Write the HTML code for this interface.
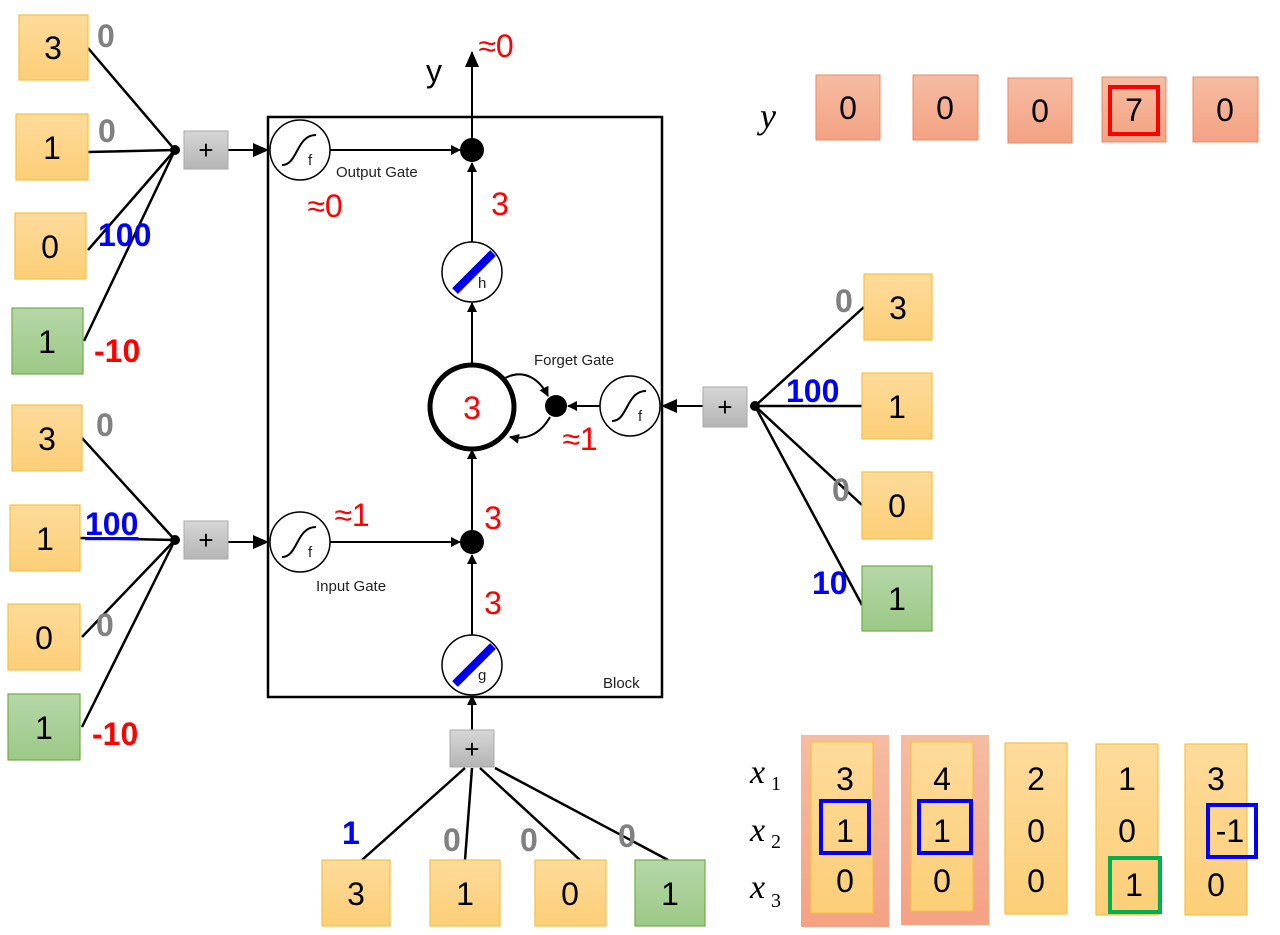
<!DOCTYPE html>
<html><head><meta charset="utf-8"><style>body{margin:0;background:#fff}svg{display:block}</style></head><body>
<svg width="1280" height="935" viewBox="0 0 1280 935" xmlns="http://www.w3.org/2000/svg" font-family="Liberation Sans, sans-serif">
<defs>
<linearGradient id="yl" x1="0" y1="0" x2="0" y2="1"><stop offset="0" stop-color="#fedb9b"/><stop offset="1" stop-color="#fccf77"/></linearGradient>
<linearGradient id="gr" x1="0" y1="0" x2="0" y2="1"><stop offset="0" stop-color="#b6d7a8"/><stop offset="1" stop-color="#9cc987"/></linearGradient>
<linearGradient id="sa" x1="0" y1="0" x2="0" y2="1"><stop offset="0" stop-color="#f6bca2"/><stop offset="1" stop-color="#f4a283"/></linearGradient>
<linearGradient id="gy" x1="0" y1="0" x2="0" y2="1"><stop offset="0" stop-color="#d6d6d6"/><stop offset="1" stop-color="#b5b5b5"/></linearGradient>
<marker id="ar" markerWidth="10" markerHeight="10" refX="9" refY="5" orient="auto" markerUnits="userSpaceOnUse"><path d="M0,0 L10,5 L0,10 z" fill="#000"/></marker>
<marker id="ab" markerWidth="16" markerHeight="14" refX="15" refY="7" orient="auto" markerUnits="userSpaceOnUse"><path d="M0,0 L16,7 L0,14 z" fill="#000"/></marker>
</defs>
<g stroke="#000" stroke-width="2.5" fill="none">
<!-- left top -->
<line x1="88" y1="48" x2="175" y2="150"/><line x1="88" y1="152" x2="175" y2="150"/><line x1="88" y1="250" x2="175" y2="150"/><line x1="84" y1="341" x2="175" y2="150"/>
<!-- left bottom -->
<line x1="82" y1="438" x2="175" y2="540"/><line x1="80" y1="538" x2="175" y2="540"/><line x1="82" y1="637" x2="175" y2="540"/><line x1="82" y1="727" x2="175" y2="540"/>
<!-- right -->
<line x1="864" y1="307" x2="755" y2="406"/><line x1="862" y1="406" x2="755" y2="406"/><line x1="862" y1="505" x2="755" y2="406"/><line x1="862" y1="605" x2="755" y2="406"/>
<!-- bottom -->
<line x1="362" y1="860" x2="465" y2="768"/><line x1="465" y1="860" x2="472" y2="768"/><line x1="580" y1="860" x2="480" y2="768"/><line x1="668" y1="860" x2="495" y2="768"/>
</g>
<g fill="#000"><circle cx="175" cy="150" r="5"/><circle cx="175" cy="540" r="5"/><circle cx="755" cy="406" r="5"/></g>
<!-- block -->
<rect x="268" y="117" width="394" height="580" fill="none" stroke="#000" stroke-width="2.5"/>
<g stroke="#000" stroke-width="2" fill="none">
<line x1="228" y1="150" x2="268" y2="150" marker-end="url(#ab)"/>
<line x1="228" y1="542" x2="268" y2="542" marker-end="url(#ab)"/>
<line x1="330" y1="150" x2="460" y2="150" marker-end="url(#ar)"/>
<line x1="330" y1="542" x2="460" y2="542" marker-end="url(#ar)"/>
<line x1="472" y1="242" x2="472" y2="163" marker-end="url(#ar)"/>
<line x1="472" y1="365" x2="472" y2="303" marker-end="url(#ar)"/>
<line x1="472" y1="530" x2="472" y2="450" marker-end="url(#ar)"/>
<line x1="472" y1="635" x2="472" y2="555" marker-end="url(#ar)"/>
<line x1="472" y1="730" x2="472" y2="696" marker-end="url(#ar)"/>
<line x1="472" y1="138" x2="472" y2="52" marker-end="url(#ab)"/>
<line x1="600" y1="406" x2="568" y2="406" marker-end="url(#ar)"/>
<line x1="703" y1="406" x2="662" y2="406" marker-end="url(#ab)"/>
<path d="M505,378 C525,368 540,380 548,396" marker-end="url(#ar)"/>
<path d="M550,417 C540,435 525,440 510,437" marker-end="url(#ar)"/>
</g>
<g fill="#fff" stroke="#000" stroke-width="1.5">
<circle cx="300" cy="150" r="30"/><circle cx="300" cy="542" r="30"/><circle cx="630" cy="406" r="30"/>
<circle cx="472" cy="272" r="30"/><circle cx="472" cy="665" r="30"/>
</g>
<circle cx="472" cy="407" r="42" fill="#fff" stroke="#000" stroke-width="5"/>
<g fill="#000"><circle cx="472" cy="150" r="12"/><circle cx="472" cy="542" r="12"/><circle cx="556" cy="406" r="11"/></g>
<g stroke="#000" stroke-width="2" fill="none">
<path d="M282,165 C298,165 296,135 316,135"/><path d="M282,557 C298,557 296,527 316,527"/><path d="M612,421 C628,421 626,391 646,391"/>
</g>
<g stroke="#0000ee" stroke-width="8"><line x1="455" y1="291" x2="493" y2="253"/><line x1="455" y1="684" x2="493" y2="646"/></g>
<g font-size="15" fill="#222">
<text x="308" y="165">f</text><text x="308" y="557">f</text><text x="638" y="421">f</text>
<text x="478" y="288">h</text><text x="478" y="680">g</text>
<text x="336" y="177">Output Gate</text><text x="316" y="591">Input Gate</text><text x="534" y="365">Forget Gate</text><text x="603" y="688">Block</text>
</g>
<!-- plus boxes -->
<g fill="url(#gy)" stroke="#aaa" stroke-width="1">
<rect x="184" y="131" width="44" height="38"/><rect x="184" y="521" width="44" height="38"/><rect x="703" y="387" width="44" height="40"/><rect x="450" y="730" width="44" height="37"/>
</g>
<g font-size="26" text-anchor="middle" fill="#000"><text x="206" y="159">+</text><text x="206" y="549">+</text><text x="725" y="416">+</text><text x="472" y="758">+</text></g>
<!-- input boxes -->
<g stroke="#f5c242" stroke-width="1.2" fill="url(#yl)">
<rect x="19" y="15" width="69" height="65"/><rect x="16" y="114" width="72" height="66"/><rect x="15" y="213" width="71" height="66"/>
<rect x="12" y="405" width="70" height="66"/><rect x="10" y="505" width="70" height="66"/><rect x="8" y="604" width="72" height="66"/>
<rect x="864" y="274" width="68" height="66"/><rect x="862" y="373" width="70" height="66"/><rect x="862" y="472" width="70" height="67"/>
<rect x="322" y="860" width="68" height="66"/><rect x="430" y="860" width="70" height="66"/><rect x="535" y="860" width="71" height="66"/>
</g>
<g stroke="#71ad47" stroke-width="1.2" fill="url(#gr)">
<rect x="12" y="308" width="71" height="66"/><rect x="8" y="694" width="72" height="66"/><rect x="862" y="566" width="70" height="65"/><rect x="635" y="860" width="70" height="66"/>
</g>
<g font-size="32" text-anchor="middle" fill="#000">
<text x="53" y="59">3</text><text x="52" y="159">1</text><text x="50" y="258">0</text><text x="47" y="353">1</text>
<text x="47" y="450">3</text><text x="45" y="550">1</text><text x="44" y="649">0</text><text x="44" y="739">1</text>
<text x="898" y="319">3</text><text x="897" y="418">1</text><text x="897" y="517">0</text><text x="897" y="610">1</text>
<text x="356" y="905">3</text><text x="465" y="905">1</text><text x="570" y="905">0</text><text x="670" y="905">1</text>
</g>
<g font-size="32" font-weight="bold">
<text x="97" y="47" fill="#808080">0</text><text x="98" y="142" fill="#808080">0</text><text x="98" y="246" fill="#0000ff">100</text><text x="94" y="362" fill="#ff0000">-10</text>
<text x="96" y="436" fill="#808080">0</text><text x="85" y="535" fill="#0000ff" text-decoration="underline">100</text><text x="96" y="636" fill="#808080">0</text><text x="92" y="745" fill="#ff0000">-10</text>
<text x="835" y="312" fill="#808080">0</text><text x="786" y="402" fill="#0000ff">100</text><text x="832" y="501" fill="#808080">0</text><text x="812" y="594" fill="#0000ff">10</text>
<text x="342" y="844" fill="#0000ff">1</text><text x="443" y="851" fill="#808080">0</text><text x="520" y="851" fill="#808080">0</text><text x="618" y="847" fill="#808080">0</text>
</g>
<g font-size="32" fill="#ff0000" text-anchor="middle">
<text x="496" y="57">≈0</text><text x="500" y="215">3</text><text x="325" y="217">≈0</text><text x="472" y="419">3</text>
<text x="580" y="450">≈1</text><text x="352" y="526">≈1</text><text x="493" y="529">3</text><text x="493" y="614">3</text>
</g>
<text x="426" y="82" font-size="32" fill="#000">y</text>
<!-- y row -->
<text x="760" y="128" font-size="36" font-style="italic" font-family="Liberation Serif, serif">y</text>
<g fill="url(#sa)" stroke="#e98a6a" stroke-width="1">
<rect x="816" y="75" width="64" height="65"/><rect x="913" y="75" width="65" height="65"/><rect x="1008" y="78" width="64" height="65"/><rect x="1102" y="77" width="64" height="65"/><rect x="1193" y="77" width="65" height="65"/>
</g>
<rect x="1110" y="87" width="48" height="47" fill="none" stroke="#ff0000" stroke-width="4"/>
<g font-size="32" text-anchor="middle"><text x="848" y="119">0</text><text x="945" y="119">0</text><text x="1040" y="122">0</text><text x="1134" y="121">7</text><text x="1225" y="121">0</text></g>
<!-- x columns -->
<g font-size="34" font-style="italic" font-family="Liberation Serif, serif"><text x="750" y="783">x</text><text x="750" y="841">x</text><text x="750" y="898">x</text></g>
<g font-size="20" font-family="Liberation Serif, serif"><text x="771" y="790">1</text><text x="771" y="848">2</text><text x="771" y="907">3</text></g>
<rect x="801" y="735" width="88" height="192" fill="url(#sa)"/><rect x="901" y="735" width="88" height="190" fill="url(#sa)"/>
<g fill="url(#yl)" stroke="#f5c242" stroke-width="1.2">
<rect x="811" y="742" width="62" height="171"/><rect x="911" y="742" width="62" height="169"/><rect x="1005" y="743" width="62" height="171"/><rect x="1096" y="744" width="62" height="171"/><rect x="1185" y="744" width="62" height="171"/>
</g>
<g fill="none" stroke-width="4">
<rect x="821" y="801" width="48" height="52" stroke="#0000ff"/><rect x="919" y="801" width="52" height="52" stroke="#0000ff"/><rect x="1208" y="805" width="48" height="52" stroke="#0000ff"/><rect x="1110" y="858" width="50" height="54" stroke="#00b050"/>
</g>
<g font-size="32" text-anchor="middle">
<text x="845" y="790">3</text><text x="845" y="842">1</text><text x="845" y="892">0</text>
<text x="942" y="790">4</text><text x="942" y="842">1</text><text x="942" y="892">0</text>
<text x="1036" y="790">2</text><text x="1036" y="842">0</text><text x="1036" y="892">0</text>
<text x="1127" y="790">1</text><text x="1127" y="842">0</text><text x="1134" y="896">1</text>
<text x="1216" y="790">3</text><text x="1230" y="842">-1</text><text x="1216" y="896">0</text>
</g>
</svg>
</body></html>
